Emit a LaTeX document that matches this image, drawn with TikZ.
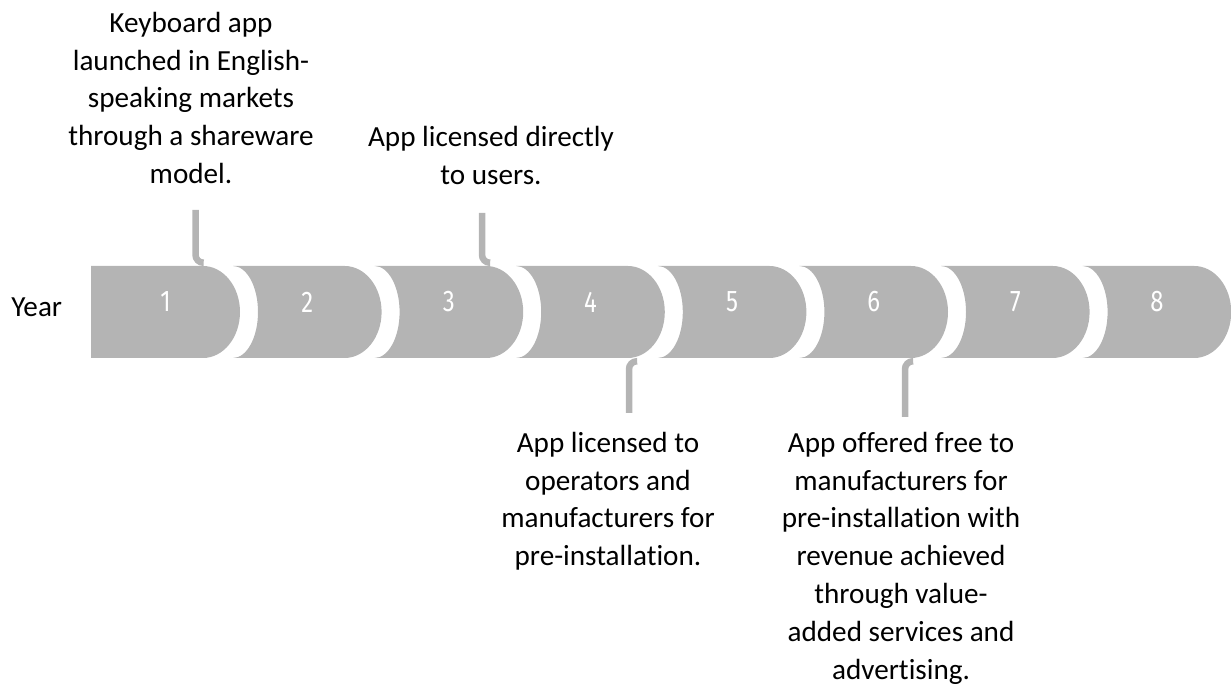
\documentclass[tikz,border=0pt]{standalone}
\usepackage{fontspec}
\setmainfont[Ligatures=NoCommon]{Carlito}
\newfontfamily\numfont[FakeStretch=0.8]{Fira Sans}
\definecolor{segfill}{RGB}{180,180,180}

\begin{document}
\begin{tikzpicture}[
    x=0.02cm, y=0.02cm,
    seg/.style={fill=segfill},
    num/.style={font=\numfont\fontsize{17}{20}\selectfont, text=white},
    note/.style={align=center, anchor=north, inner sep=0pt, font=\fontsize{16.6}{21.6}\selectfont},
    conn/.style={draw=segfill, line width=0.13cm, rounded corners=4.5pt}
]
\useasboundingbox (0,0) rectangle (1231,685);

\node[anchor=base west, inner sep=0pt, font=\fontsize{16.6}{20}\selectfont] (year) at (11,368) {Year};

% first segment has a flat left side
\fill[seg] (91,419) -- (203,419) arc[start angle=90, end angle=-90, x radius=37, y radius=46] -- (91,327) -- cycle;
\node[num] (n1) at (165.5,383) {1};
\foreach \i in {2,...,8} {
  \pgfmathsetmacro{\R}{240+141.6*(\i-1)}
  \pgfmathsetmacro{\L}{\R-148.6}
  \fill[seg] (\L,419) -- (\R-37,419) arc[start angle=90, end angle=-90, x radius=37, y radius=46]
    -- (\L,327) arc[start angle=-90, end angle=90, x radius=25, y radius=46] -- cycle;
  \node[num] (n\i) at ({(\L+\R)/2},383) {\i};
}

\node[note] (t1) at (191,673.5) {Keyboard app\\launched in English-\\speaking markets\\through a shareware\\model.};
\node[note] (t2) at (491,559.5) {App licensed directly\\to users.};
\node[note] (t3) at (608,253.5) {App licensed to\\operators and\\manufacturers for\\pre-installation.};
\node[note] (t4) at (901,253.5) {App offered free to\\manufacturers for\\pre-installation with\\revenue achieved\\through value-\\added services and\\advertising.};

\coordinate (p1) at (195.5,475);
\coordinate (j1) at (203.5,422.25);
\coordinate (p3) at (482,472);
\coordinate (j3) at (490,422.25);
\coordinate (p4) at (629,272);
\coordinate (j4) at (637,323.75);
\coordinate (p6) at (905,268);
\coordinate (j6) at (913,323.75);

\draw[conn] (p1) |- (j1);
\draw[conn] (p3) |- (j3);
\draw[conn] (p4) |- (j4);
\draw[conn] (p6) |- (j6);
\end{tikzpicture}
\end{document}
